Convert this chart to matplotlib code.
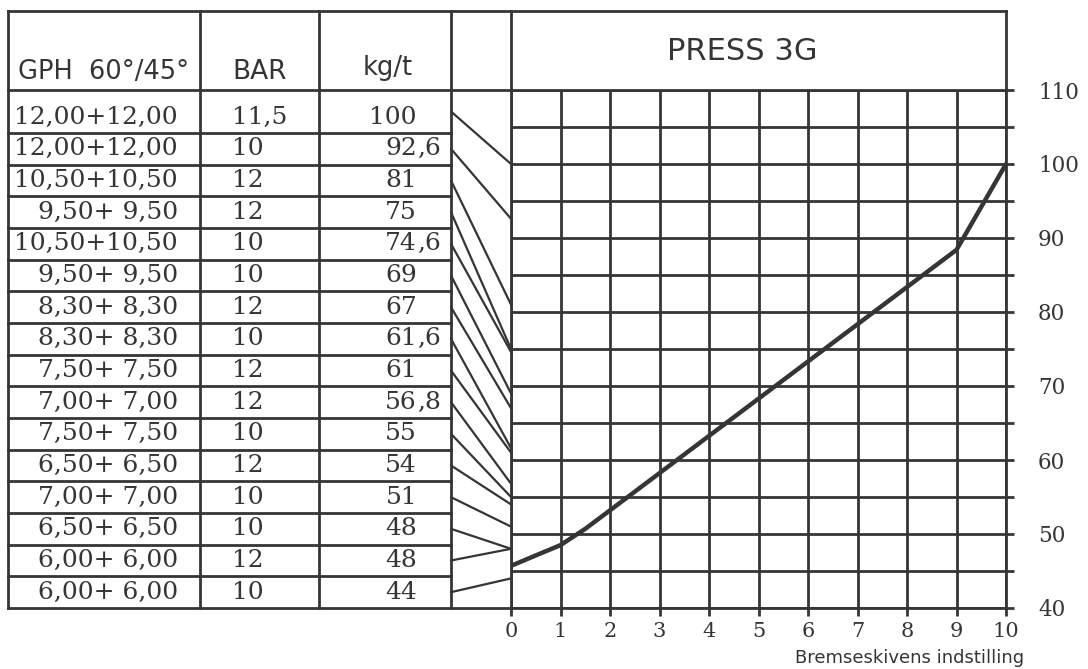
import matplotlib
matplotlib.use("Agg")
import matplotlib.pyplot as plt
from matplotlib.patches import ConnectionPatch
import numpy as np

# table rows (top to bottom)
gph = ["12,00+12,00", "12,00+12,00", "10,50+10,50", "9,50+ 9,50",
       "10,50+10,50", "9,50+ 9,50", "8,30+ 8,30", "8,30+ 8,30",
       "7,50+ 7,50", "7,00+ 7,00", "7,50+ 7,50", "6,50+ 6,50",
       "7,00+ 7,00", "6,50+ 6,50", "6,00+ 6,00", "6,00+ 6,00"]
bar = ["11,5", "10", "12", "12", "10", "10", "12", "10",
       "12", "12", "10", "12", "10", "10", "12", "10"]
kgt = [100, 92.6, 81, 75, 74.6, 69, 67, 61.6,
       61, 56.8, 55, 54, 51, 48, 48, 44]

# press curve
setting = [0, 1, 1.5, 2, 9, 10]
press = [45.7, 48.5, 50.7, 53.2, 88.4, 100]

ink = '#353535'
W, H = 1088, 669

plt.rcParams['font.family'] = 'DejaVu Serif'
fig = plt.figure(figsize=(W / 100, H / 100), dpi=100)
fig.patch.set_facecolor('white')

# layout axes in pixel units for the table and boxes
lay = fig.add_axes([0, 0, 1, 1], zorder=0)
lay.set_xlim(0, W)
lay.set_ylim(H, 0)
lay.axis('off')

left, top, head_b, bottom = 8, 11, 90, 608
cols = [8, 200, 319, 451]
x0_px, x10_px = 511, 1006

row_b = np.concatenate([[133], np.linspace(133, bottom, 16)[1:]])
row_t = np.concatenate([[head_b], row_b[:-1]])
row_c = (row_t + row_b) / 2

lw = 2.0
# outer / header lines
lay.plot([left, x10_px], [top, top], color=ink, lw=lw)
lay.plot([left, x0_px], [head_b, head_b], color=ink, lw=lw)
lay.plot([left, x0_px], [bottom, bottom], color=ink, lw=lw)
for c in cols:
    lay.plot([c, c], [top, bottom], color=ink, lw=lw)
lay.plot([x0_px, x0_px], [top, head_b], color=ink, lw=lw)
lay.plot([x10_px, x10_px], [top, head_b], color=ink, lw=lw)
for yb in row_b[:-1]:
    lay.plot([left, cols[-1]], [yb, yb], color=ink, lw=lw)

# header text
lay.text(18, 72, "GPH  60°/45°", family='DejaVu Sans', fontsize=18.5,
         color=ink, ha='left', va='center')
lay.text(260, 72, "BAR", family='DejaVu Sans', fontsize=19,
         color=ink, ha='center', va='center')
lay.text(388, 68, "kg/t", family='DejaVu Sans', fontsize=18.5,
         color=ink, ha='center', va='center')
lay.text(742, 51, "PRESS 3G", family='DejaVu Sans', fontsize=22,
         color=ink, ha='center', va='center')
lay.text(1024, 658, "Bremseskivens indstilling", family='DejaVu Sans',
         fontsize=13, color=ink, ha='right', va='center')

# table body
for i in range(len(gph)):
    ty = row_b[i] - 15.8
    lay.text(178, ty, gph[i], fontsize=18, color=ink, ha='right', va='center')
    lay.text(232, ty, bar[i], fontsize=18, color=ink, ha='left', va='center')
    s = f"{kgt[i]:g}".replace('.', ',')
    ip, sep, fr = s.partition(',')
    lay.text(417, ty, ip, fontsize=18, color=ink, ha='right', va='center')
    if sep:
        lay.text(417, ty, sep + fr, fontsize=18, color=ink, ha='left', va='center')

# chart
ax = fig.add_axes([x0_px / W, (H - bottom) / H, (x10_px - x0_px) / W,
                   (bottom - head_b) / H], zorder=1)
ax.plot(setting, press, color=ink, lw=3.2, solid_capstyle='round', zorder=3)
ax.set_xlim(0, 10)
ax.set_ylim(40, 110)
ax.set_xticks(range(0, 11))
ax.set_yticks(range(40, 111, 10))
ax.set_yticks(range(45, 110, 10), minor=True)
ax.yaxis.tick_right()
ax.grid(which='both', color=ink, lw=lw)
ax.set_axisbelow(True)
ax.tick_params(axis='both', which='both', direction='out', length=6,
               width=lw, color=ink, labelcolor=ink)
ax.tick_params(axis='y', pad=17, labelsize=15.5)
ax.tick_params(axis='x', pad=4, labelsize=15)
for sp in ax.spines.values():
    sp.set_color(ink)
    sp.set_linewidth(lw)

# connectors from table rows to the kg/t value on the chart axis
for i, v in enumerate(kgt):
    con = ConnectionPatch(xyA=(cols[-1], row_c[i]), coordsA=lay.transData,
                          xyB=(0, v), coordsB=ax.transData,
                          color=ink, lw=1.6)
    fig.add_artist(con)

fig.savefig('out.png', dpi=100)
